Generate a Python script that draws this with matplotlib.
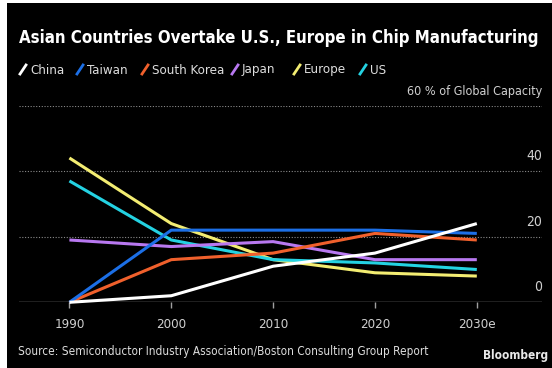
import numpy as np
import matplotlib
matplotlib.use("Agg")
import matplotlib.pyplot as plt
from matplotlib.patches import Rectangle
from matplotlib.lines import Line2D
import matplotlib.transforms as mtransforms

# data (% of global capacity)
years = [1990, 2000, 2010, 2020, 2030]
year_labels = ['1990', '2000', '2010', '2020', '2030e']
china = [0, 2, 11, 15, 24]
taiwan = [0, 22, 22, 22, 21]
south_korea = [0, 13, 15, 21, 19]
japan = [19, 17, 18.5, 13, 13]
europe = [44, 24, 13, 9, 8]
us = [37, 19, 13, 12, 10]

names = ['China', 'Taiwan', 'South Korea', 'Japan', 'Europe', 'US']
series = [china, taiwan, south_korea, japan, europe, us]
colors = ['#ffffff', '#1c6fe6', '#f0602c', '#b878f0', '#f3ed72', '#24d2e2']
yticks = [0, 20, 40]

W, H = 552, 368
FONT = ['DejaVu Sans']
plt.rcParams['font.family'] = FONT
plt.rcParams['font.stretch'] = 'condensed'


def fx(x):
    return x / W


def fy(y):
    return 1 - y / H


fig = plt.figure(figsize=(W / 100, H / 100), dpi=100, facecolor='white')
fig.add_artist(Rectangle((fx(7), 0), 1 - fx(7), fy(3), transform=fig.transFigure,
                         facecolor='black', edgecolor='none', zorder=-10))

ax = fig.add_axes([fx(19), fy(302.3), fx(542) - fx(19), fy(105.5) - fy(302.3)])
ax.set_facecolor('none')
ax.set_xlim(1985.05, 2036.4)
ax.set_ylim(0, 60)
for s in ax.spines.values():
    s.set_visible(False)

for g in [20, 40, 60]:
    ax.axhline(g, color='#8a8a8a', lw=0.8, ls=(0, (1, 1.5)), zorder=1)
ax.axhline(0, color='#a0a0a0', lw=1.0, zorder=1)

# europe/us drawn before the asian lines like in the source
order = [4, 5, 3, 2, 1, 0]
for i in order:
    ax.plot(years, series[i], color=colors[i], lw=2.2, solid_capstyle='butt',
            clip_on=False, zorder=3)

ax.set_xticks(years)
ax.set_xticklabels(year_labels)
ax.tick_params(axis='x', direction='out', length=4, width=1, color='#a0a0a0',
               labelcolor='#d0d0d0', labelsize=9.5, pad=7)
ax.set_yticks([])

off = mtransforms.offset_copy(ax.get_yaxis_transform(), fig=fig, x=0, y=8, units='dots')
for v in yticks:
    ax.text(1.0, v, str(v), transform=off, ha='right', va='bottom',
            color='#d0d0d0', fontsize=10)
ax.text(1.0, 60, '60 % of Global Capacity', transform=off, ha='right', va='bottom',
        color='#d0d0d0', fontsize=9)

fig.text(fx(19), fy(38), 'Asian Countries Overtake U.S., Europe in Chip Manufacturing',
         color='white', fontsize=12.1, fontweight='bold', ha='left', va='center')

# legend: slash mark + label
leg_x = [20, 77, 142, 232, 294, 360]
for x, name, c in zip(leg_x, names, colors):
    fig.add_artist(Line2D([fx(x), fx(x + 6)], [fy(74), fy(65)], color=c, lw=2,
                          transform=fig.transFigure))
    fig.text(fx(x + 10), fy(70), name, color='#dddddd', fontsize=9.5,
             ha='left', va='center')

fig.text(fx(18), fy(352), 'Source: Semiconductor Industry Association/Boston Consulting Group Report',
         color='#dddddd', fontsize=8.5, ha='left', va='center')
fig.text(fx(548), fy(355), 'Bloomberg', color='#e8e8e8', fontsize=8.5,
         fontweight='bold', ha='right', va='center')

fig.savefig('out.png', dpi=100, facecolor='white')
